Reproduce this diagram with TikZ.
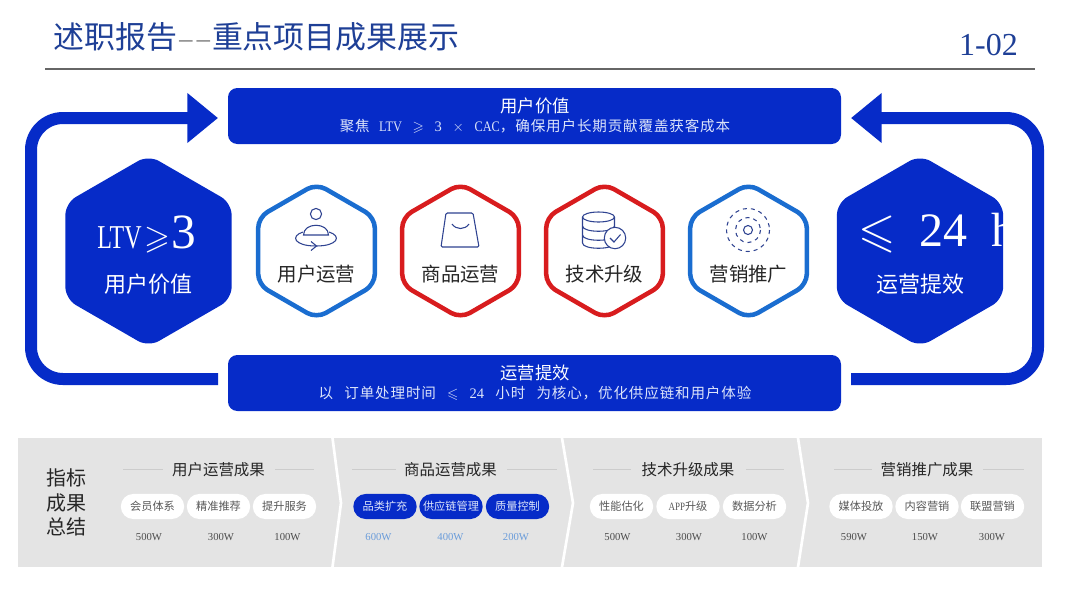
\documentclass[tikz,border=0pt]{standalone}
\usepackage{amsmath}
\usepackage{amssymb}
\usepackage{fontspec}
\setmainfont{Liberation Serif}
\newfontfamily\cjk{Noto Sans CJK SC}
\newfontfamily\cjkwide[LetterSpace=6]{Noto Sans CJK SC}
\usetikzlibrary{shapes.geometric,arrows.meta}
\definecolor{deepblue}{HTML}{062BC8}
\definecolor{titleblue}{HTML}{1E3F96}
\definecolor{linkblue}{HTML}{1A6DD0}
\definecolor{alertred}{HTML}{D81C1E}
\definecolor{panelgray}{HTML}{E4E4E4}
\definecolor{icongray}{HTML}{2F4391}
\definecolor{softwhite}{HTML}{DCE4FA}
\definecolor{valueblue}{HTML}{6A9CDA}
\newcommand{\pxfont}[1]{\fontsize{#1}{#1}\selectfont}
\tikzset{
    bighex/.style={regular polygon, regular polygon sides=6, shape border rotate=30, minimum size=144pt, inner sep=0pt, fill=deepblue, rounded corners=9pt},
    smallhex/.style={regular polygon, regular polygon sides=6, shape border rotate=30, minimum size=101pt, inner sep=0pt, draw, line width=3.4pt, fill=white, rounded corners=8pt},
    banner/.style={draw=none, fill=deepblue, rounded corners=7pt, minimum width=459.75pt, minimum height=42pt, inner sep=0pt},
    bannerhead/.style={text=white, font=\cjk\pxfont{13pt}},
    bannersub/.style={text=softwhite, font=\cjkwide\pxfont{10.9pt}},
    flowline/.style={draw=deepblue, line width=9pt, rounded corners=24pt},
    flowhead/.style={flowline, -{Triangle[length=23pt,width=36pt]}},
    hexlabel/.style={text=black!85, font=\cjk\pxfont{14.6pt}},
    iconline/.style={draw=icongray, line width=0.8pt},
    groupline/.style={draw=black!20, line width=0.6pt},
    grouphead/.style={text=black!85, font=\cjk\pxfont{11.6pt}},
    pill/.style={fill=white, text=black!65, rounded corners=9.3pt, minimum width=47.5pt, minimum height=18.8pt, inner sep=0pt, font=\cjk\pxfont{8.4pt}},
    bluepill/.style={pill, fill=deepblue, text=softwhite},
    amount/.style={text=black!70, font=\pxfont{8pt}},
    blueamount/.style={amount, text=valueblue},
    splitline/.style={draw=white, line width=2pt}
}
\begin{document}
\begin{tikzpicture}[x=0.75pt, y=-0.75pt]
    \useasboundingbox (0,0) rectangle (1080,608);
    % header
    \node[anchor=west, inner sep=0pt, text=titleblue, font=\pxfont{23.2pt}] (title) at (53,37) {{\cjk 述职报告}\raisebox{1.5pt}{\textcolor{black!45}{\scalebox{1.7}[.7]{-{}-}}}{\cjk 重点项目成果展示}};
    \node[anchor=east, inner sep=0pt, text=titleblue, font=\pxfont{24pt}] (pageno) at (1018,45) {1-02};
    \coordinate (ruleL) at (45,69);
    \coordinate (ruleR) at (1035,69);
    \draw[draw=black!60, line width=1.1pt] (ruleL) -- (ruleR);

    % banners
    \node[banner] (topbar) at (534.5,116) {};
    \node[bannerhead] (tophead) at (535,106) {用户价值};
    \node[bannersub] (topsub) at (535,126.5) {聚焦\kern7pt\rmfamily\scalebox{.85}[1]{LTV}\kern8pt$\geqslant$\kern8pt 3\kern8pt$\times$\kern8pt\scalebox{.85}[1]{CAC}\cjkwide ，确保用户长期贡献覆盖获客成本};
    \node[banner] (botbar) at (534.5,383) {};
    \node[bannerhead] (bothead) at (535,372.5) {运营提效};
    \node[bannersub] (botsub) at (535,393.5) {以\kern8.4pt 订单处理时间\kern8.4pt$\leqslant$\kern8.4pt{\rmfamily 24}\kern8.4pt 小时\kern8.4pt 为核心，优化供应链和用户体验};

    % loop arrows
    \coordinate (leftfoot) at (218,379);
    \coordinate (lefttip) at (218,118);
    \coordinate (rightfoot) at (851,379);
    \coordinate (righttip) at (851,118);
    \draw[flowhead] (leftfoot) -- (31,379) -- (31,118) -- (lefttip);
    \draw[flowhead] (rightfoot) -- (1038,379) -- (1038,118) -- (righttip);

    % big hexagons
    \node[bighex] (ltvhex) at (148.5,251) {};
    \node[anchor=west, inner sep=0pt, text=white, font=\pxfont{25pt}] (ltvtext) at (97,234) {\scalebox{.72}[1]{LTV}\kern2pt$\geqslant$\kern1pt\pxfont{37pt}3};
    \node[text=white, font=\cjk\pxfont{16.5pt}] (ltvname) at (148.5,284) {用户价值};
    \node[bighex] (timehex) at (920,251) {};
    \node[anchor=west, inner sep=0pt, text=white, font=\pxfont{36pt}] (timetext) at (858,233) {$\leqslant$\kern18pt 24\kern18pt h};
    \node[text=white, font=\cjk\pxfont{16.5pt}] (timename) at (920,284) {运营提效};

    % small hexagons
    \node[smallhex, draw=linkblue] (userhex) at (316.5,251) {};
    \node[smallhex, draw=alertred] (goodshex) at (460.5,251) {};
    \node[smallhex, draw=alertred] (techhex) at (604.5,251) {};
    \node[smallhex, draw=linkblue] (markhex) at (748.5,251) {};
    \node[hexlabel] (userlabel) at (316.5,274) {用户运营};
    \node[hexlabel] (goodslabel) at (460.5,274) {商品运营};
    \node[hexlabel] (techlabel) at (604.5,274) {技术升级};
    \node[hexlabel] (marklabel) at (748.5,274) {营销推广};

    % icons
    \draw[iconline] (316,214) circle (5.6);
    \draw[iconline] (303.5,235) .. controls (303.5,222) and (328.5,222) .. (328.5,235) -- cycle;
    \draw[iconline] (303,232) .. controls (290,236) and (294,246) .. (316,246) .. controls (338,246) and (342,236) .. (329,232);
    \draw[iconline] (311,241.5) -- (316.5,246) -- (311,250.5);
    \draw[iconline, rounded corners=1pt] (446,213) -- (473,213) -- (479,247) -- (441,247) -- cycle;
    \draw[iconline] (452,224) .. controls (456,230) and (465,230) .. (469,224);
    \draw[iconline] (598.5,217) ellipse (16 and 5);
    \draw[iconline] (582.5,217) -- (582.5,243) .. controls (582.5,250) and (614.5,250) .. (614.5,243) -- (614.5,217);
    \draw[iconline] (582.5,226) .. controls (582.5,233) and (614.5,233) .. (614.5,226);
    \draw[iconline] (582.5,235) .. controls (582.5,242) and (614.5,242) .. (614.5,235);
    \draw[iconline, fill=white] (615,238) circle (10.7);
    \draw[iconline] (610,238) -- (614,242) -- (620.5,234.5);
    \draw[iconline] (748,230) circle (4.5);
    \draw[iconline, dashed] (748,230) circle (12.5);
    \draw[iconline, dashed] (748,230) circle (21.5);

    % summary panel
    \node[fill=panelgray, minimum width=768pt, minimum height=96.75pt, inner sep=0pt] (panel) at (530,502.5) {};
    \draw[splitline] (332.5,438) -- (341,503) -- (332.5,567);
    \draw[splitline] (562,438) -- (573,503) -- (562,567);
    \draw[splitline] (798,438) -- (808,503) -- (798,567);
    \node[align=center, inner sep=0pt, text=black!85, font=\cjk\fontsize{15pt}{18.4pt}\selectfont] (panelname) at (66,502.5) {指标\\成果\\总结};

    % group heads
    \node[grouphead] (userhead) at (218.5,470) {用户运营成果};
    \node[grouphead] (goodshead) at (450.5,470) {商品运营成果};
    \node[grouphead] (techhead) at (688,470) {技术升级成果};
    \node[grouphead] (markhead) at (927,470) {营销推广成果};
    \draw[groupline] (123,469) -- (162.5,469);
    \draw[groupline] (275,469) -- (314,469);
    \draw[groupline] (352,469) -- (396,469);
    \draw[groupline] (507,469) -- (557,469);
    \draw[groupline] (593,469) -- (631,469);
    \draw[groupline] (746,469) -- (784,469);
    \draw[groupline] (834,469) -- (872,469);
    \draw[groupline] (983,469) -- (1024,469);

    % pills
    \node[pill] (userA) at (152.5,506.5) {会员体系};
    \node[pill] (userB) at (218.5,506.5) {精准推荐};
    \node[pill] (userC) at (284.5,506.5) {提升服务};
    \node[bluepill] (goodsA) at (385,506.5) {品类扩充};
    \node[bluepill] (goodsB) at (451,506.5) {供应链管理};
    \node[bluepill] (goodsC) at (517.5,506.5) {质量控制};
    \node[pill] (techA) at (621.5,506.5) {性能估化};
    \node[pill] (techB) at (688,506.5) {\rmfamily\scalebox{.8}[1]{APP}\cjk 升级};
    \node[pill] (techC) at (754.5,506.5) {数据分析};
    \node[pill] (markA) at (861,506.5) {媒体投放};
    \node[pill] (markB) at (927,506.5) {内容营销};
    \node[pill] (markC) at (992.5,506.5) {联盟营销};

    % amounts
    \node[amount] (userAval) at (149,537) {500W};
    \node[amount] (userBval) at (221,537) {300W};
    \node[amount] (userCval) at (287.5,537) {100W};
    \node[blueamount] (goodsAval) at (378.5,537) {600W};
    \node[blueamount] (goodsBval) at (450.5,537) {400W};
    \node[blueamount] (goodsCval) at (516,537) {200W};
    \node[amount] (techAval) at (617.5,537) {500W};
    \node[amount] (techBval) at (689,537) {300W};
    \node[amount] (techCval) at (754.5,537) {100W};
    \node[amount] (markAval) at (854,537) {590W};
    \node[amount] (markBval) at (925,537) {150W};
    \node[amount] (markCval) at (992,537) {300W};
\end{tikzpicture}
\end{document}
